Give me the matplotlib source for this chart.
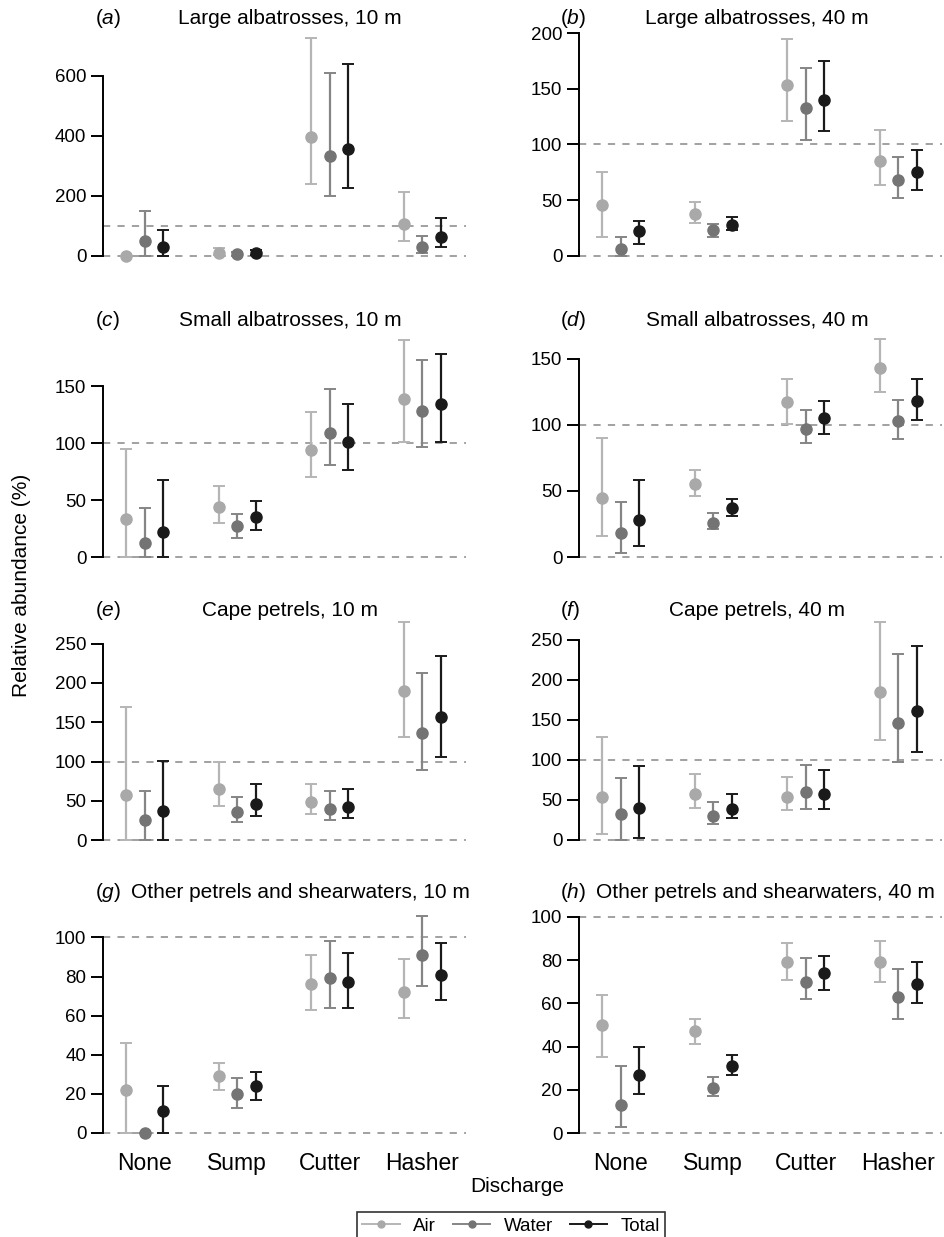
import matplotlib
matplotlib.use("Agg")
import matplotlib.pyplot as plt
from matplotlib.lines import Line2D

plt.rcParams['font.family'] = ['Liberation Sans', 'DejaVu Sans']
plt.rcParams['mathtext.fontset'] = 'custom'
plt.rcParams['mathtext.it'] = 'Liberation Sans:italic'
plt.rcParams['mathtext.rm'] = 'Liberation Sans'

# data: mean, lower, upper for each series, per category (None, Sump, Cutter, Hasher)
categories = ['None', 'Sump', 'Cutter', 'Hasher']
series = ['Air', 'Water', 'Total']
letters = ['a', 'b', 'c', 'd', 'e', 'f', 'g', 'h']
titles = ['Large albatrosses, 10 m', 'Large albatrosses, 40 m',
          'Small albatrosses, 10 m', 'Small albatrosses, 40 m',
          'Cape petrels, 10 m', 'Cape petrels, 40 m',
          'Other petrels and shearwaters, 10 m', 'Other petrels and shearwaters, 40 m']

# panel a
a_air = [[0, 10, 395, 107], [0, 2, 240, 51], [0, 25, 726, 214]]
a_water = [[51, 7, 332, 30], [0, 1, 198, 11], [151, 14, 608, 65]]
a_total = [[29, 8, 357, 62], [0, 2, 226, 31], [87, 18, 640, 125]]
# panel b
b_air = [[46, 38, 153, 85], [17, 30, 121, 64], [75, 48, 195, 113]]
b_water = [[6, 23, 133, 68], [0, 17, 104, 52], [17, 29, 169, 89]]
b_total = [[22, 28, 140, 75], [11, 23, 112, 59], [31, 35, 175, 95]]
# panel c
c_air = [[33, 44, 94, 139], [0, 30, 70, 101], [95, 62, 127, 191]]
c_water = [[12, 27, 109, 128], [0, 17, 81, 97], [43, 38, 148, 173]]
c_total = [[22, 35, 101, 134], [0, 24, 76, 101], [68, 49, 134, 178]]
# panel d
d_air = [[45, 55, 117, 143], [16, 46, 101, 125], [90, 66, 135, 165]]
d_water = [[18, 26, 97, 103], [3, 21, 86, 89], [42, 33, 111, 119]]
d_total = [[28, 37, 105, 118], [8, 31, 93, 104], [58, 44, 118, 135]]
# panel e
e_air = [[58, 65, 49, 190], [0, 43, 33, 131], [169, 100, 72, 277]]
e_water = [[26, 36, 40, 136], [0, 23, 26, 89], [62, 55, 62, 213]]
e_total = [[37, 46, 42, 156], [0, 31, 28, 106], [101, 71, 65, 234]]
# panel f
f_air = [[54, 57, 54, 185], [8, 40, 38, 125], [129, 83, 79, 272]]
f_water = [[32, 30, 60, 146], [0, 20, 39, 97], [77, 48, 94, 232]]
f_total = [[40, 39, 58, 161], [2, 27, 39, 110], [93, 58, 88, 243]]
# panel g
g_air = [[22, 29, 76, 72], [0, 22, 63, 59], [46, 36, 91, 89]]
g_water = [[0, 20, 79, 91], [0, 13, 64, 75], [0, 28, 98, 111]]
g_total = [[11, 24, 77, 81], [0, 17, 64, 68], [24, 31, 92, 97]]
# panel h
h_air = [[50, 47, 79, 79], [35, 41, 71, 70], [64, 53, 88, 89]]
h_water = [[13, 21, 70, 63], [3, 17, 62, 53], [31, 26, 81, 76]]
h_total = [[27, 31, 74, 69], [18, 27, 66, 60], [40, 36, 82, 79]]

panels = [[a_air, a_water, a_total], [b_air, b_water, b_total],
          [c_air, c_water, c_total], [d_air, d_water, d_total],
          [e_air, e_water, e_total], [f_air, f_water, f_total],
          [g_air, g_water, g_total], [h_air, h_water, h_total]]

yticks = [[0, 200, 400, 600], [0, 50, 100, 150, 200], [0, 50, 100, 150], [0, 50, 100, 150],
          [0, 50, 100, 150, 200, 250], [0, 50, 100, 150, 200, 250],
          [0, 20, 40, 60, 80, 100], [0, 20, 40, 60, 80, 100]]
ylims = [(-27, 743), (-7.2, 200), (-7, 195), (-6, 168), (-10, 280), (-10, 275), (-4.1, 113), (-3.7, 102.3)]

# layout in pixels
W, H = 944, 1237
col_left = [103, 579]
ax_w = 363
row_top = [33, 335, 620, 912]
row_bot = [264, 565, 848, 1141]
title_y = [18, 320, 610, 892]
letter_x = [95, 560]
title_x = [[290, 'center'], [757, 'center'], [290, 'center'], [757, 'center'],
           [290, 'center'], [757, 'center'], [131, 'left'], [596, 'left']]

colors = ['#a9a9a9', '#747474', '#1a1a1a']
ecolors = ['#b5b5b5', '#858585', '#1a1a1a']
offsets = [-0.2, 0.0, 0.2]

fig = plt.figure(figsize=(W / 100, H / 100), dpi=100)

for i in range(8):
    r, c = i // 2, i % 2
    ax = fig.add_axes([col_left[c] / W, 1 - row_bot[r] / H, ax_w / W, (row_bot[r] - row_top[r]) / H])
    ax.axhline(0, color='#9a9a9a', ls=(0, (4, 4)), lw=1.3, zorder=0)
    ax.axhline(100, color='#9a9a9a', ls=(0, (4, 4)), lw=1.3, zorder=0)
    for k in range(3):
        mean, lo, hi = panels[i][k]
        xs = [j + 1 + offsets[k] for j in range(4)]
        yerr = [[m - l for m, l in zip(mean, lo)], [h - m for m, h in zip(mean, hi)]]
        ax.errorbar(xs, mean, yerr=yerr, fmt='o', color=colors[k], ecolor=ecolors[k],
                    markersize=8, elinewidth=1.6, capsize=4.5, capthick=1.4, zorder=2 + k)
    ax.set_xlim(0.55, 4.47)
    ax.set_ylim(*ylims[i])
    ax.set_yticks(yticks[i])
    ax.spines['top'].set_visible(False)
    ax.spines['right'].set_visible(False)
    ax.spines['bottom'].set_visible(False)
    ax.spines['left'].set_bounds(yticks[i][0], yticks[i][-1])
    ax.spines['left'].set_linewidth(1.4)
    ax.tick_params(axis='y', length=9, width=1.4, labelsize=13.5, pad=3)
    ax.set_xticks([1, 2, 3, 4])
    if r == 3:
        ax.set_xticklabels(categories, fontsize=16.5)
        ax.tick_params(axis='x', length=0, pad=8)
    else:
        ax.set_xticklabels([])
        ax.tick_params(axis='x', length=0)
    ax.patch.set_visible(False)

    fig.text(letter_x[c] / W, 1 - title_y[r] / H, '($\\it{' + letters[i] + '}$)',
             fontsize=15, ha='left', va='center')
    fig.text(title_x[i][0] / W, 1 - title_y[r] / H, titles[i],
             fontsize=15, ha=title_x[i][1], va='center')

fig.text(22 / W, 1 - 585 / H, 'Relative abundance (%)', rotation=90, fontsize=15,
         ha='center', va='center')
fig.text(517 / W, 1 - 1186 / H, 'Discharge', fontsize=15, ha='center', va='center')

handles = [Line2D([0], [0], color=ecolors[k], marker='o', markersize=5,
                  markerfacecolor=colors[k], markeredgecolor=colors[k], lw=1.4) for k in range(3)]
leg = fig.legend(handles, series, loc='center', bbox_to_anchor=(511 / W, 1 - 1226 / H),
                 ncol=3, fontsize=13.5, frameon=True, fancybox=False, edgecolor='black',
                 handlelength=2.0, columnspacing=0.9, handletextpad=0.7,
                 borderpad=0.3, borderaxespad=0)
leg.get_frame().set_linewidth(1.2)

fig.savefig('out.png', dpi=100)
